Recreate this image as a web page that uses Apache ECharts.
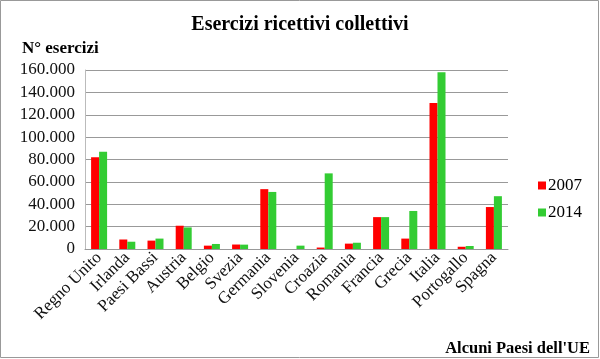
<!DOCTYPE html>
<html>
<head>
<meta charset="utf-8">
<script src="https://cdn.jsdelivr.net/npm/echarts@6/dist/echarts.min.js"></script>
<style>
html,body{margin:0;padding:0;background:#fff;}
#c{width:600px;height:359px;}
</style>
</head>
<body>
<div id="c"></div>
<script>
var categories = ['Regno Unito','Irlanda','Paesi Bassi','Austria','Belgio','Svezia','Germania','Slovenia','Croazia','Romania','Francia','Grecia','Italia','Portogallo','Spagna'];
var values2007 = [82000, 8500, 7500, 20800, 3000, 4000, 53500, 0, 1300, 4800, 28500, 9300, 130500, 2000, 37500];
var values2014 = [87000, 6500, 9300, 19300, 4500, 3900, 51000, 3000, 67600, 5600, 28500, 34000, 158000, 2700, 47200];
var seriesNames = ['2007', '2014'];
var yTicks = {min: 0, max: 160000, interval: 20000};

var serif = '"Liberation Serif", "Times New Roman", serif';
var chart = echarts.init(document.getElementById('c'));
function fmt(v){ return String(v).replace(/\B(?=(\d{3})+(?!\d))/g, '.'); }
chart.setOption({
  animation: false,
  backgroundColor: '#fff',
  textStyle: {fontFamily: serif},
  title: [
    {text: 'Esercizi ricettivi collettivi', left: 'center', top: 10,
     textStyle: {fontFamily: serif, fontSize: 20, fontWeight: 'bold', color: '#000'}},
    {text: 'N° esercizi', left: 17, top: 35,
     textStyle: {fontFamily: serif, fontSize: 17, fontWeight: 'bold', color: '#000'}},
    {text: "Alcuni Paesi dell'UE", right: 5, top: 335,
     textStyle: {fontFamily: serif, fontSize: 16.5, fontWeight: 'bold', color: '#000'}}
  ],
  legend: {
    orient: 'vertical', left: 533, top: 172, itemWidth: 8, itemHeight: 8, itemGap: 10,
    icon: 'rect',
    textStyle: {fontFamily: serif, fontSize: 17, color: '#000', padding: [0,0,0,-3]},
    data: seriesNames
  },
  grid: {left: 85, right: 92, top: 70, bottom: 110, containLabel: false},
  xAxis: {
    type: 'category', data: categories,
    axisLine: {show: true, lineStyle: {color: '#999'}},
    axisTick: {show: false},
    axisLabel: {rotate: 45, interval: 0, margin: 6, fontFamily: serif, fontSize: 17, color: '#111'}
  },
  yAxis: {
    type: 'value', min: yTicks.min, max: yTicks.max, interval: yTicks.interval,
    axisLine: {show: true, lineStyle: {color: '#bbb'}},
    axisTick: {show: false},
    splitLine: {lineStyle: {color: '#999'}},
    axisLabel: {formatter: fmt, margin: 10, fontFamily: serif, fontSize: 17, color: '#111'}
  },
  series: [
    {name: seriesNames[0], type: 'bar', data: values2007, itemStyle: {color: '#FF0000'}, barWidth: 8, barGap: '0%'},
    {name: seriesNames[1], type: 'bar', data: values2014, itemStyle: {color: '#33CC33'}, barWidth: 8, barGap: '0%'}
  ],
  graphic: [
    {type: 'rect', shape: {x: 0.5, y: 0.5, width: 598, height: 357}, style: {fill: 'none', stroke: '#999', lineWidth: 1}, silent: true}
  ]
});
</script>
</body>
</html>
